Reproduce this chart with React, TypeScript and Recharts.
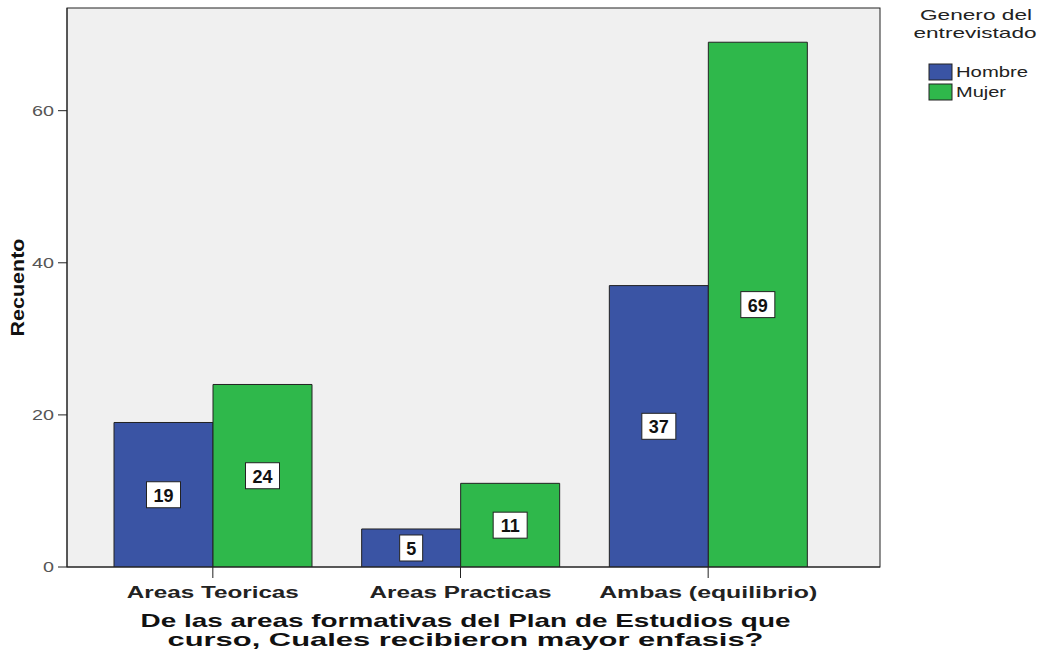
import { BarChart, Bar, XAxis, YAxis, LabelList, CartesianGrid } from 'recharts'

const categories = ['Areas Teoricas', 'Areas Practicas', 'Ambas (equilibrio)']
const hombre = [19, 5, 37]
const mujer = [24, 11, 69]
const yTicks = [0, 20, 40, 60]

const BLUE = '#3a54a4'
const GREEN = '#2fb84b'
const FONT = 'Liberation Sans, Arial, sans-serif'

const data = categories.map((name, i) => ({ name, Hombre: hombre[i], Mujer: mujer[i] }))

// widths of the stretched category labels as they appear in the picture
const catLabelWidth: Record<string, number> = {
  'Areas Teoricas': 172,
  'Areas Practicas': 182,
  'Ambas (equilibrio)': 218,
}

function ValueBox(props: any) {
  const { x, y, width, height, value } = props
  const cx = x + width / 2
  const cy = y + height / 2
  const text = String(value)
  const w = text.length * 11 + 12
  const h = 26
  return (
    <g>
      <rect x={cx - w / 2} y={cy - h / 2} width={w} height={h} fill="#fff" stroke="#222" strokeWidth={1} />
      <text x={cx} y={cy + 7} textAnchor="middle" fontFamily={FONT} fontWeight="bold" fontSize={18} fill="#111">
        {text}
      </text>
    </g>
  )
}

function CatTick(props: any) {
  const { x, y, payload } = props
  const len = catLabelWidth[payload.value] || 180
  return (
    <text
      x={x}
      y={y + 18}
      textAnchor="middle"
      fontFamily={FONT}
      fontWeight="bold"
      fontSize={16}
      fill="#222"
      textLength={len}
      lengthAdjust="spacingAndGlyphs"
    >
      {payload.value}
    </text>
  )
}

function YTick(props: any) {
  const { x, y, payload } = props
  const s = String(payload.value)
  return (
    <text
      x={x - 2}
      y={y + 5}
      textAnchor="end"
      fontFamily={FONT}
      fontSize={15}
      fill="#555"
      textLength={s.length * 11}
      lengthAdjust="spacingAndGlyphs"
    >
      {s}
    </text>
  )
}

function XTitle(props: any) {
  const { viewBox } = props
  const cx = viewBox.x + viewBox.width / 2 - 8
  const y = viewBox.y + 60
  const common = {
    textAnchor: 'middle' as const,
    fontFamily: FONT,
    fontWeight: 'bold',
    fontSize: 19,
    fill: '#111',
    lengthAdjust: 'spacingAndGlyphs' as const,
  }
  return (
    <g>
      <text x={cx} y={y} textLength={650} {...common}>
        De las areas formativas del Plan de Estudios que
      </text>
      <text x={cx} y={y + 19} textLength={596} {...common}>
        curso, Cuales recibieron mayor enfasis?
      </text>
    </g>
  )
}

function YTitle(props: any) {
  const { viewBox } = props
  const x = 24
  const y = viewBox.y + viewBox.height / 2
  return (
    <text
      x={x}
      y={y}
      transform={`rotate(-90 ${x} ${y})`}
      textAnchor="middle"
      fontFamily={FONT}
      fontWeight="bold"
      fontSize={18}
      fill="#111"
      textLength={98}
      lengthAdjust="spacingAndGlyphs"
    >
      Recuento
    </text>
  )
}

function LegendBox() {
  const items = [
    { name: 'Hombre', color: BLUE, len: 72 },
    { name: 'Mujer', color: GREEN, len: 50 },
  ]
  return (
    <g fontFamily={FONT} fill="#222">
      <text x={976} y={20} textAnchor="middle" fontSize={15} textLength={112} lengthAdjust="spacingAndGlyphs">
        Genero del
      </text>
      <text x={975} y={38} textAnchor="middle" fontSize={15} textLength={123} lengthAdjust="spacingAndGlyphs">
        entrevistado
      </text>
      {items.map((it, i) => (
        <g key={it.name}>
          <rect x={929} y={64 + i * 20} width={23} height={16} fill={it.color} stroke="#222" strokeWidth={1} />
          <text x={956} y={77 + i * 20} fontSize={14} textLength={it.len} lengthAdjust="spacingAndGlyphs">
            {it.name}
          </text>
        </g>
      ))}
    </g>
  )
}

export default function App() {
  return (
    <div style={{ position: 'absolute', left: 0, top: 0, width: 1043, height: 654, background: '#fff' }}>
      <BarChart
        width={1043}
        height={654}
        data={data}
        margin={{ top: 8, right: 163, bottom: 57, left: 0 }}
        barCategoryGap={25}
        barGap={0}
      >
        <CartesianGrid horizontal={false} vertical={false} fill="#f0f0f0" />
        <rect x={67} y={8} width={813} height={559} fill="none" stroke="#222" strokeWidth={1} />
        <XAxis
          dataKey="name"
          height={30}
          padding={{ left: 22, right: 48 }}
          axisLine={{ stroke: '#222' }}
          tickLine={{ stroke: '#222' }}
          tickSize={11}
          tick={<CatTick />}
          label={<XTitle />}
        />
        <YAxis
          width={67}
          domain={[0, 73.5]}
          ticks={yTicks}
          allowDataOverflow
          axisLine={{ stroke: '#222' }}
          tickLine={{ stroke: '#222' }}
          tickSize={9}
          tick={<YTick />}
          label={<YTitle />}
        />
        <Bar dataKey="Hombre" fill={BLUE} stroke="#222" strokeWidth={1} isAnimationActive={false}>
          <LabelList dataKey="Hombre" content={<ValueBox />} />
        </Bar>
        <Bar dataKey="Mujer" fill={GREEN} stroke="#222" strokeWidth={1} isAnimationActive={false}>
          <LabelList dataKey="Mujer" content={<ValueBox />} />
        </Bar>
        <LegendBox />
      </BarChart>
    </div>
  )
}
